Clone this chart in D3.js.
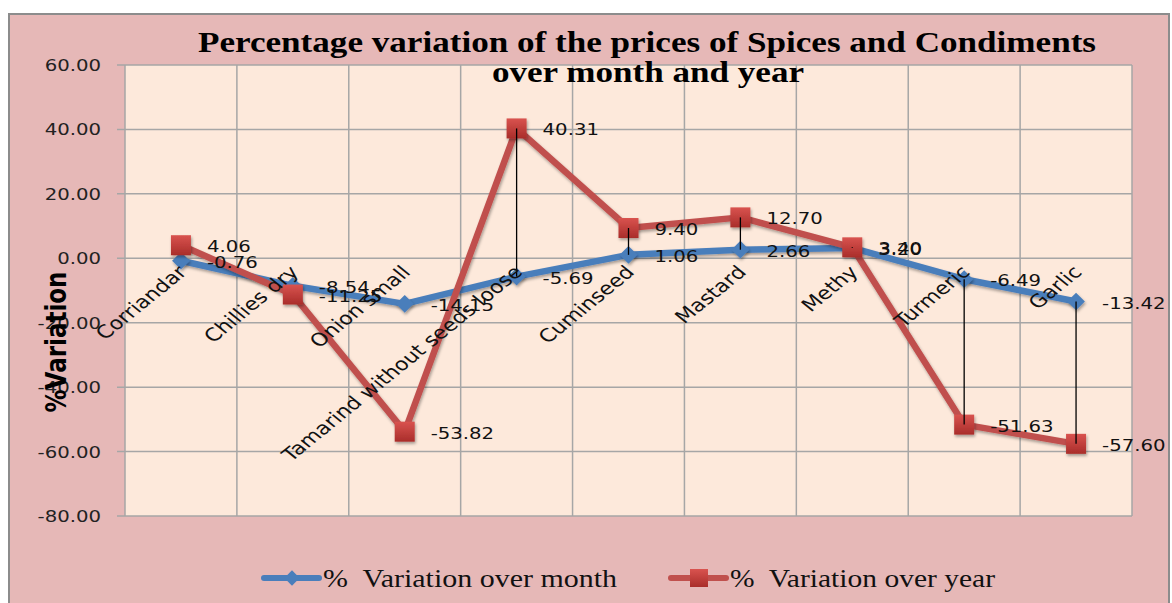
<!DOCTYPE html>
<html>
<head>
<meta charset="utf-8">
<script src="https://cdn.jsdelivr.net/npm/d3@7"></script>
<style>
  body { margin: 0; background: #fff; }
  svg text { font-family: "DejaVu Sans", Verdana, sans-serif; }
</style>
</head>
<body>
<div id="chart"></div>
<script>
const width = 1172, height = 603;

// data
const categories = ["Corriandar", "Chillies dry", "Onion small", "Tamarind without seeds loose",
  "Cuminseed", "Mastard", "Methy", "Turmeric", "Garlic"];
const overMonth = [-0.76, -8.54, -14.15, -5.69, 1.06, 2.66, 3.20, -6.49, -13.42];
const overYear = [4.06, -11.25, -53.82, 40.31, 9.40, 12.70, 3.40, -51.63, -57.60];
const dropCats = ["Tamarind without seeds loose", "Cuminseed", "Mastard", "Methy", "Turmeric", "Garlic"];
const yTicks = [-80, -60, -40, -20, 0, 20, 40, 60];
const seriesNames = ["%  Variation over month", "%  Variation over year"];

const plot = {left: 125, right: 1132, top: 65, bottom: 516};
const stretch = 1.23; // text in the picture is drawn wide

const fmt = v => v.toFixed(2);

const x = d3.scalePoint().domain(categories).range([plot.left, plot.right]).padding(0.5);
const y = d3.scaleLinear().domain([-80, 60]).range([plot.bottom, plot.top]);
const step = x.step();

const svg = d3.select("#chart").append("svg")
  .attr("width", width).attr("height", height);

const defs = svg.append("defs");
const grad = defs.append("linearGradient").attr("id", "sq").attr("x1", 0).attr("y1", 0).attr("x2", 0).attr("y2", 1);
grad.append("stop").attr("offset", "0%").attr("stop-color", "#d9534f");
grad.append("stop").attr("offset", "100%").attr("stop-color", "#a92d2a");
const shadow = defs.append("filter").attr("id", "sh").attr("x", "-50%").attr("y", "-50%").attr("width", "200%").attr("height", "200%");
shadow.append("feDropShadow").attr("dx", 1).attr("dy", 2).attr("stdDeviation", 1.5).attr("flood-color", "#000").attr("flood-opacity", 0.35);

// outer chart area
svg.append("rect")
  .attr("x", 9).attr("y", 14).attr("width", 1160).attr("height", 600)
  .attr("fill", "#e6b8b7").attr("stroke", "#8c8c8c").attr("stroke-width", 2);

// plot area
svg.append("rect")
  .attr("x", plot.left).attr("y", plot.top)
  .attr("width", plot.right - plot.left).attr("height", plot.bottom - plot.top)
  .attr("fill", "#fde9db");

// horizontal gridlines
svg.append("g").selectAll("line").data(yTicks).enter().append("line")
  .attr("x1", plot.left - 8).attr("x2", plot.right)
  .attr("y1", d => y(d)).attr("y2", d => y(d))
  .attr("stroke", "#a6a6a6").attr("stroke-width", 1.5);

// vertical gridlines at category boundaries
const bounds = categories.map(c => x(c) + step / 2);
svg.append("g").selectAll("line").data(bounds).enter().append("line")
  .attr("x1", d => d).attr("x2", d => d)
  .attr("y1", plot.top).attr("y2", plot.bottom)
  .attr("stroke", "#a6a6a6").attr("stroke-width", 1.5);

// y axis line
svg.append("line")
  .attr("x1", plot.left).attr("x2", plot.left).attr("y1", plot.top).attr("y2", plot.bottom)
  .attr("stroke", "#a6a6a6").attr("stroke-width", 1.5);

// y tick labels
svg.append("g").selectAll("text").data(yTicks).enter().append("text")
  .attr("transform", d => `translate(101,${y(d) + 6}) scale(${stretch},1)`)
  .attr("text-anchor", "end")
  .attr("font-size", 16).attr("fill", "#222")
  .text(d => fmt(d));

// title
svg.append("text")
  .attr("x", 198).attr("y", 52)
  .attr("textLength", 898).attr("lengthAdjust", "spacingAndGlyphs")
  .style("font-family", "'Liberation Serif', 'Times New Roman', serif")
  .attr("font-weight", "bold").attr("font-size", 30).attr("fill", "#000")
  .text("Percentage variation of the prices of Spices and Condiments");
svg.append("text")
  .attr("x", 492).attr("y", 82)
  .attr("textLength", 312).attr("lengthAdjust", "spacingAndGlyphs")
  .style("font-family", "'Liberation Serif', 'Times New Roman', serif")
  .attr("font-weight", "bold").attr("font-size", 30).attr("fill", "#000")
  .text("over month and year");

// y axis title
svg.append("text")
  .attr("transform", `translate(66,342) scale(${stretch},1) rotate(-90)`)
  .attr("text-anchor", "middle")
  .attr("font-weight", "bold").attr("font-size", 23).attr("fill", "#000")
  .text("%Variation");

const line = d3.line().x(d => x(d.c)).y(d => y(d.v));
const monthPts = categories.map((c, i) => ({c: c, v: overMonth[i]}));
const yearPts = categories.map((c, i) => ({c: c, v: overYear[i]}));

// month series
svg.append("path").datum(monthPts)
  .attr("d", line).attr("fill", "none")
  .attr("stroke", "#4a7ebb").attr("stroke-width", 6.5).attr("stroke-linejoin", "round")
  .attr("filter", "url(#sh)");
svg.append("g").selectAll("path").data(monthPts).enter().append("path")
  .attr("d", d3.symbol().type(d3.symbolDiamond2).size(200))
  .attr("transform", d => `translate(${x(d.c)},${y(d.v)})`)
  .attr("fill", "#4a7ebb").attr("filter", "url(#sh)");

// year series
svg.append("path").datum(yearPts)
  .attr("d", line).attr("fill", "none")
  .attr("stroke", "#c0504d").attr("stroke-width", 6.5).attr("stroke-linejoin", "round")
  .attr("filter", "url(#sh)");
svg.append("g").selectAll("rect").data(yearPts).enter().append("rect")
  .attr("x", d => x(d.c) - 10).attr("y", d => y(d.v) - 10)
  .attr("width", 20).attr("height", 20)
  .attr("fill", "url(#sq)").attr("filter", "url(#sh)");

// high-low lines
svg.append("g").selectAll("line").data(dropCats).enter().append("line")
  .attr("x1", d => x(d)).attr("x2", d => x(d))
  .attr("y1", d => y(overMonth[categories.indexOf(d)]))
  .attr("y2", d => y(overYear[categories.indexOf(d)]))
  .attr("stroke", "#000").attr("stroke-width", 1.3);

// category labels at the zero line (drawn over the series)
svg.append("g").selectAll("text").data(categories).enter().append("text")
  .attr("transform", d => `translate(${x(d) + 7},${y(0) + 15}) scale(${stretch},1) rotate(-45)`)
  .attr("text-anchor", "end")
  .attr("font-size", 18).attr("fill", "#111")
  .text(d => d);

// data labels
const labels = monthPts.concat(yearPts);
svg.append("g").selectAll("text").data(labels).enter().append("text")
  .attr("transform", d => `translate(${x(d.c) + 26},${y(d.v) + 7}) scale(${stretch},1)`)
  .attr("font-size", 16).attr("fill", "#111")
  .text(d => fmt(d.v));

// legend
const legend = svg.append("g").attr("transform", "translate(0,578)");
const lx = [264, 671];
const lw = [294, 265];
const lcol = ["#4a7ebb", "#c0504d"];
lx.forEach((px, i) => {
  legend.append("line")
    .attr("x1", px).attr("x2", px + 55).attr("y1", 0).attr("y2", 0)
    .attr("stroke", lcol[i]).attr("stroke-width", 6).attr("stroke-linecap", "round");
  if (i === 0) {
    legend.append("path")
      .attr("d", d3.symbol().type(d3.symbolDiamond2).size(150))
      .attr("transform", `translate(${px + 28},0)`).attr("fill", lcol[i]);
  } else {
    legend.append("rect")
      .attr("x", px + 19).attr("y", -9).attr("width", 18).attr("height", 18)
      .attr("fill", "url(#sq)");
  }
  legend.append("text")
    .attr("x", px + 59).attr("y", 9)
    .attr("textLength", lw[i]).attr("lengthAdjust", "spacingAndGlyphs")
    .style("font-family", "'Liberation Serif', 'Times New Roman', serif")
    .style("white-space", "pre")
    .attr("font-size", 26).attr("fill", "#111")
    .text(seriesNames[i]);
});
</script>
</body>
</html>
